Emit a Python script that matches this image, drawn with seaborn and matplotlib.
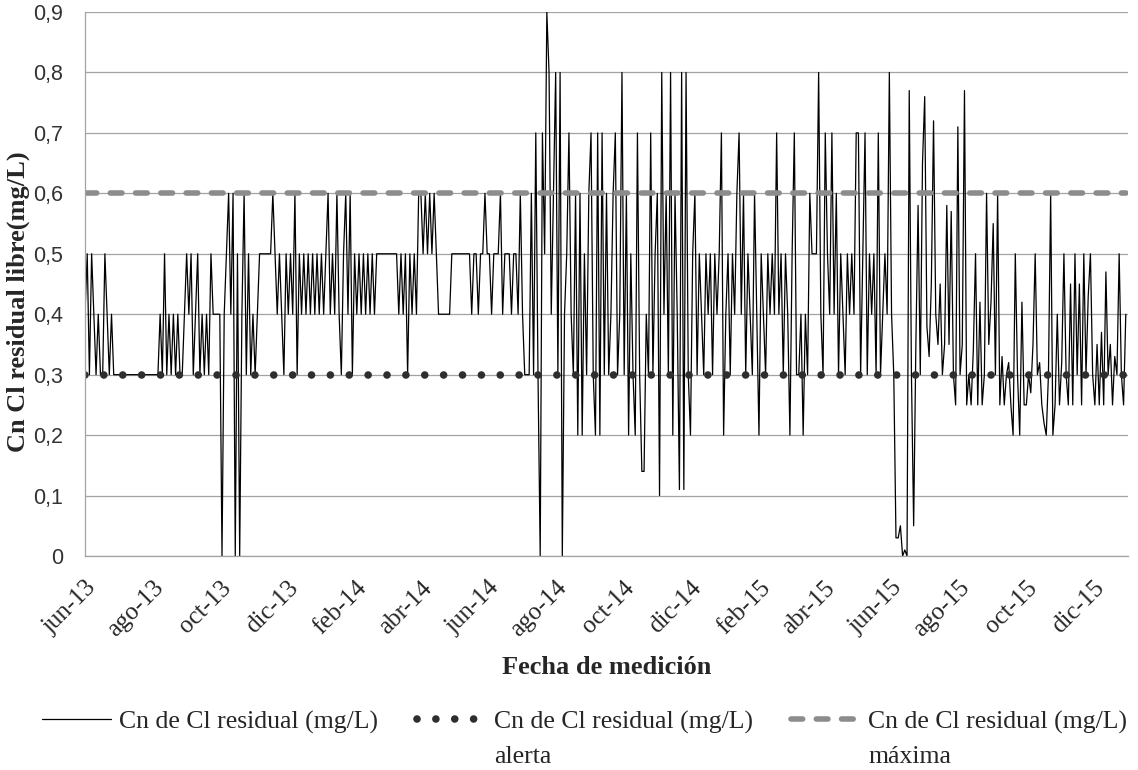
import numpy as np
import pandas as pd
import seaborn as sns
import matplotlib.pyplot as plt
import matplotlib.transforms as mtransforms
from matplotlib.ticker import MultipleLocator, FuncFormatter

# Cn de Cl residual (mg/L), one reading every two days, grouped by two-month period
jun_jul_13 = [0.4, 0.5, 0.3, 0.5, 0.4, 0.3, 0.4, 0.3, 0.3, 0.5, 0.4, 0.3, 0.4, 0.3,
              0.3, 0.3, 0.3, 0.3, 0.3, 0.3, 0.3, 0.3, 0.3, 0.3, 0.3, 0.3, 0.3, 0.3, 0.3, 0.3, 0.3]
ago_sep_13 = [0.3, 0.3, 0.3, 0.4, 0.3, 0.5, 0.3, 0.4, 0.3, 0.4, 0.3, 0.4, 0.3, 0.3, 0.4,
              0.5, 0.4, 0.5, 0.3, 0.4, 0.5, 0.3, 0.4, 0.3, 0.4, 0.3, 0.5, 0.4, 0.4, 0.4]
oct_nov_13 = [0.4, 0.0, 0.4, 0.5, 0.6, 0.4, 0.6, 0.0, 0.5, 0.0, 0.4, 0.6, 0.3, 0.5, 0.3, 0.4,
              0.3, 0.4, 0.5, 0.5, 0.5, 0.5, 0.5, 0.5, 0.6, 0.5, 0.4, 0.5, 0.4, 0.3, 0.5]
dic_ene_14 = [0.4, 0.5, 0.4, 0.6, 0.3, 0.5, 0.4, 0.5, 0.4, 0.5, 0.4, 0.5, 0.4, 0.5, 0.4, 0.5,
              0.4, 0.5, 0.6, 0.4, 0.5, 0.4, 0.6, 0.4, 0.3, 0.5, 0.6, 0.4, 0.6, 0.3, 0.5]
feb_mar_14 = [0.4, 0.5, 0.4, 0.5, 0.4, 0.5, 0.4, 0.5, 0.4, 0.5, 0.5, 0.5, 0.5, 0.5, 0.5,
              0.5, 0.5, 0.5, 0.5, 0.4, 0.5, 0.4, 0.5, 0.3, 0.5, 0.4, 0.5, 0.4, 0.6]
abr_may_14 = [0.6, 0.5, 0.6, 0.5, 0.6, 0.5, 0.6, 0.5, 0.4, 0.4, 0.4, 0.4, 0.4, 0.4, 0.5, 0.5,
              0.5, 0.5, 0.5, 0.5, 0.5, 0.5, 0.5, 0.4, 0.5, 0.5, 0.4, 0.5, 0.5, 0.6, 0.5]
jun_jul_14 = [0.5, 0.4, 0.5, 0.5, 0.5, 0.6, 0.4, 0.5, 0.5, 0.5, 0.4, 0.5, 0.5, 0.4, 0.6,
              0.4, 0.3, 0.3, 0.3, 0.6, 0.3, 0.7, 0.3, 0.0, 0.7, 0.5, 0.9, 0.8, 0.4, 0.6]
ago_sep_14 = [0.8, 0.3, 0.8, 0.0, 0.4, 0.5, 0.7, 0.4, 0.3, 0.6, 0.2, 0.6, 0.2, 0.5, 0.3, 0.6,
              0.7, 0.3, 0.2, 0.7, 0.2, 0.7, 0.3, 0.6, 0.3, 0.4, 0.6, 0.7, 0.3, 0.4, 0.8]
oct_nov_14 = [0.3, 0.6, 0.2, 0.5, 0.3, 0.2, 0.7, 0.3, 0.14, 0.14, 0.4, 0.3, 0.7, 0.3, 0.5,
              0.6, 0.1, 0.8, 0.4, 0.6, 0.3, 0.8, 0.2, 0.6, 0.4, 0.11, 0.8, 0.11, 0.8, 0.3]
dic_ene_15 = [0.2, 0.5, 0.6, 0.3, 0.5, 0.4, 0.3, 0.5, 0.4, 0.5, 0.3, 0.5, 0.4, 0.5, 0.7, 0.2,
              0.4, 0.5, 0.3, 0.5, 0.4, 0.6, 0.7, 0.4, 0.6, 0.3, 0.5, 0.4, 0.3, 0.6, 0.4]
feb_mar_15 = [0.2, 0.5, 0.4, 0.3, 0.5, 0.4, 0.5, 0.4, 0.7, 0.4, 0.5, 0.3, 0.5, 0.4, 0.2,
              0.5, 0.7, 0.3, 0.3, 0.4, 0.2, 0.4, 0.3, 0.6, 0.5, 0.5, 0.5, 0.8, 0.4, 0.3]
abr_may_15 = [0.7, 0.5, 0.4, 0.7, 0.4, 0.6, 0.3, 0.5, 0.4, 0.3, 0.5, 0.4, 0.5, 0.4, 0.7,
              0.7, 0.3, 0.5, 0.7, 0.3, 0.5, 0.4, 0.5, 0.3, 0.7, 0.3, 0.4, 0.5, 0.4, 0.8]
jun_jul_15 = [0.4, 0.3, 0.03, 0.03, 0.05, 0.0, 0.01, 0.0, 0.77, 0.3, 0.05, 0.35, 0.58, 0.3,
              0.65, 0.76, 0.38, 0.33, 0.45, 0.72, 0.4, 0.35, 0.45, 0.3, 0.35, 0.58, 0.35,
              0.57, 0.3, 0.25, 0.71]
ago_sep_15 = [0.3, 0.35, 0.77, 0.25, 0.3, 0.25, 0.34, 0.5, 0.25, 0.42, 0.25, 0.3, 0.6, 0.35,
              0.42, 0.55, 0.3, 0.6, 0.25, 0.33, 0.25, 0.3, 0.32, 0.25, 0.2, 0.5, 0.3, 0.2,
              0.42, 0.25]
oct_nov_15 = [0.25, 0.3, 0.27, 0.35, 0.5, 0.3, 0.32, 0.25, 0.22, 0.2, 0.3, 0.6, 0.2, 0.25,
              0.4, 0.25, 0.32, 0.5, 0.3, 0.25, 0.45, 0.25, 0.5, 0.3, 0.45, 0.25, 0.5, 0.3,
              0.43, 0.5, 0.3]
dic_15 = [0.25, 0.35, 0.25, 0.37, 0.25, 0.47, 0.3, 0.35, 0.25, 0.33, 0.3, 0.5, 0.3, 0.25, 0.4]

# limits (mg/L)
cl_alerta = 0.3
cl_maxima = 0.6

tick_dates = ['2013-06-01', '2013-08-01', '2013-10-01', '2013-12-01', '2014-02-01',
              '2014-04-01', '2014-06-01', '2014-08-01', '2014-10-01', '2014-12-01',
              '2015-02-01', '2015-04-01', '2015-06-01', '2015-08-01', '2015-10-01',
              '2015-12-01']
tick_labels = ['jun-13', 'ago-13', 'oct-13', 'dic-13', 'feb-14', 'abr-14', 'jun-14',
               'ago-14', 'oct-14', 'dic-14', 'feb-15', 'abr-15', 'jun-15', 'ago-15',
               'oct-15', 'dic-15']

serie = (jun_jul_13 + ago_sep_13 + oct_nov_13 + dic_ene_14 + feb_mar_14 + abr_may_14
         + jun_jul_14 + ago_sep_14 + oct_nov_14 + dic_ene_15 + feb_mar_15 + abr_may_15
         + jun_jul_15 + ago_sep_15 + oct_nov_15 + dic_15)

df = pd.DataFrame({'fecha': pd.date_range('2013-06-01', periods=len(serie), freq='2D'),
                   'cloro': serie})
df['alerta'] = cl_alerta
df['maxima'] = cl_maxima

sns.set_style('white')
plt.rcParams['font.family'] = ['Liberation Serif', 'DejaVu Serif']

fig, ax = plt.subplots(figsize=(11.38, 7.70), dpi=100)
fig.subplots_adjust(left=85 / 1138, right=1128 / 1138, bottom=1 - 556 / 770, top=1 - 12 / 770)

lab = 'Cn de Cl residual (mg/L)'
sns.lineplot(data=df, x='fecha', y='cloro', color='black', lw=0.9, ax=ax, label=lab)
sns.lineplot(data=df, x='fecha', y='alerta', color='#2e2e2e', lw=5.5, ax=ax, label=lab,
             linestyle=(0, (0.001, 2.47)), dash_capstyle='round')
sns.lineplot(data=df, x='fecha', y='maxima', color='#8c8c8c', lw=4, ax=ax, label=lab,
             linestyle=(0, (2.1, 2.45)), dash_capstyle='round')

# axes
ax.set_ylim(0, 0.9)
ax.set_xlim(pd.Timestamp('2013-06-01'), pd.Timestamp('2016-01-01'))
ax.yaxis.set_major_locator(MultipleLocator(0.1))
ax.yaxis.set_major_formatter(FuncFormatter(lambda v, p: '0' if abs(v) < 1e-9 else f'{v:.1f}'.replace('.', ',')))
ax.grid(axis='y', color='#a3a3a3', lw=0.9)
ax.set_axisbelow(True)
for s in ['top', 'right']:
    ax.spines[s].set_visible(False)
for s in ['left', 'bottom']:
    ax.spines[s].set_color('#a3a3a3')
    ax.spines[s].set_linewidth(0.9)

ax.set_xticks(pd.to_datetime(tick_dates))
ax.set_xticklabels(tick_labels, rotation=45, ha='right', va='top', rotation_mode='anchor',
                   fontsize=18, color='#262626')
shift = mtransforms.ScaledTranslation(5 / 100, 0, fig.dpi_scale_trans)
for t in ax.get_xticklabels():
    t.set_transform(t.get_transform() + shift)
ax.tick_params(axis='both', length=0)
ax.tick_params(axis='y', pad=16)
ax.tick_params(axis='x', pad=15)
for t in ax.get_yticklabels():
    t.set_fontfamily('Liberation Sans')
    t.set_fontsize(15.5)
    t.set_color('#333333')

ax.set_xlabel('Fecha de medición', fontsize=19, fontweight='bold')
ax.set_ylabel('Cn Cl residual libre(mg/L)', fontsize=19, fontweight='bold')
ax.xaxis.label.set_va('center')
ax.yaxis.label.set_va('center')
ax.xaxis.set_label_coords(0.5, -(668 - 556) / 544)
ax.yaxis.set_label_coords(-(85 - 18) / 1043, (556 - 302) / 544)

# legend at the bottom, second lines written underneath
h, l = ax.get_legend_handles_labels()
ax.get_legend().remove()
leg = fig.legend(h, l, loc='center left', bbox_to_anchor=(42 / 1138, 1 - 722 / 770),
                 ncol=3, frameon=False, fontsize=18.5, handlelength=2.7, handletextpad=0.3,
                 columnspacing=1.5, borderpad=0, borderaxespad=0)
fig.canvas.draw()
for txt, extra in zip(leg.get_texts()[1:], ['alerta', 'máxima']):
    bb = txt.get_window_extent()
    fig.text(bb.x0 / fig.bbox.width, ((bb.y0 + bb.y1) / 2 - 35) / fig.bbox.height, extra,
             fontsize=18.5, va='center', ha='left')

fig.savefig('out.png', dpi=100)
